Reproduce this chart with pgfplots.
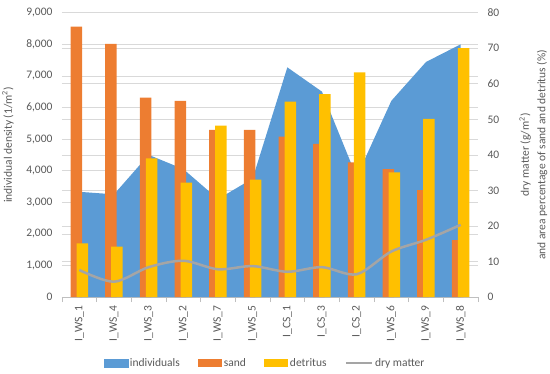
\documentclass[border=0pt]{standalone}
\usepackage{pgfplots}
\pgfplotsset{compat=1.18}
\usepackage{pgfplotstable}
\usepackage{fontspec}
\setmainfont{Carlito}
\definecolor{cInd}{HTML}{5B9BD5}
\definecolor{cSand}{HTML}{ED7D31}
\definecolor{cDet}{HTML}{FFC000}
\definecolor{cDry}{HTML}{A5A5A5}
\definecolor{cTxt}{HTML}{595959}
\definecolor{cGrid}{HTML}{D9D9D9}
\definecolor{cAx}{HTML}{BFBFBF}
\pgfplotstableread{
x ind sand det dry
0 3330 76.1 15.1 7.6
1 3250 71.2 14.2 4.3
2 4500 56.1 39.0 8.4
3 4050 55.2 32.2 10.2
4 3100 47.0 48.2 7.8
5 3750 47.0 33.0 8.7
6 7270 45.1 55.0 7.1
7 6500 43.1 57.1 8.4
8 3800 37.9 63.2 6.4
9 6210 36.0 35.1 12.8
10 7440 30.1 50.1 16.1
11 8000 16.0 70.0 20.3
}\data
\begin{document}
\begin{tikzpicture}
\path[use as bounding box] (-62pt,-76pt) rectangle (488pt,297pt);
\pgfplotsset{
  every axis/.append style={
    scale only axis, width=416pt, height=284.3pt,
    xmin=-0.5, xmax=11.5, ymin=0,
    font=\fontsize{11.5}{13.5}\selectfont,
    tick label style={text=cTxt, font=\fontsize{11.5}{13.5}\selectfont},
    label style={text=cTxt},
    /pgf/number format/assume math mode=true,
    major tick length=0pt,
  }
}
\begin{axis}[
  at={(0pt,0pt)}, anchor=south west,
  ymax=9000,
  ytick={0,1000,...,9000},
  /pgf/number format/1000 sep={,},
  extra y ticks={1125,2250,3375,4500,5625,6750,7875},
  extra y tick labels={},
  extra y tick style={grid=major},
  ymajorgrids, grid style={cGrid, line width=0.6pt},
  axis x line*=bottom, axis y line*=left,
  y axis line style={draw=none},
  x axis line style={cAx, line width=0.6pt, -},
  xtick={0,...,11},
  xticklabels={I\_WS\_1,I\_WS\_4,I\_WS\_3,I\_WS\_2,I\_WS\_7,I\_WS\_5,I\_CS\_1,I\_CS\_3,I\_CS\_2,I\_WS\_6,I\_WS\_9,I\_WS\_8},
  x tick label style={rotate=90, anchor=east, xshift=-5pt},
  y tick label style={xshift=-6pt},
  minor xtick={-0.5,0.5,...,11.5},
  minor tick length=5pt, xtick align=outside,
  minor tick style={cAx, line width=0.6pt},
  ylabel={individual density (1/m\textsuperscript{2})},
  ylabel style={at={(axis description cs:-0.13,0.535)}, anchor=center},
]
\addplot[fill=cInd, draw=none] table[x=x,y=ind] {\data} \closedcycle;
\end{axis}
\begin{axis}[
  at={(0pt,0pt)}, anchor=south west,
  ymax=80, ytick={0,10,...,80},
  axis y line*=right, axis x line=none,
  y axis line style={draw=none},
  y tick label style={xshift=6pt},
  ylabel={dry matter (g/m\textsuperscript{2})\\and area percentage of sand and detritus (\%)},
  ylabel style={align=center, at={(axis description cs:1.133,0.5)}, anchor=center, font=\fontsize{11.5}{16.5}\selectfont},
  legend columns=4,
  legend style={at={(0.488,-0.232)}, anchor=center, draw=none, fill=none,
    text=cTxt, font=\fontsize{11.5}{13.5}\selectfont,
    /tikz/every even column/.append style={column sep=16pt}},
]
\addlegendimage{legend image code/.code={\fill[cInd] (0pt,-4pt) rectangle (24pt,4pt);}}
\addlegendentry{individuals}
\addplot[ybar, bar width=11.5pt, bar shift=-3pt, fill=cSand, draw=none,
  legend image code/.code={\fill[cSand] (0pt,-4pt) rectangle (24pt,4pt);}]
  table[x=x,y=sand] {\data};
\addlegendentry{sand}
\addplot[ybar, bar width=11.5pt, bar shift=3pt, fill=cDet, draw=none,
  legend image code/.code={\fill[cDet] (0pt,-4pt) rectangle (24pt,4pt);}]
  table[x=x,y=det] {\data};
\addlegendentry{detritus}
\addplot[cDry, line width=2.5pt, smooth, mark=none,
  legend image code/.code={\draw[cDry, line width=2.5pt] (0pt,0pt) -- (26pt,0pt);}]
  table[x=x,y=dry] {\data};
\addlegendentry{dry matter}
\end{axis}
\end{tikzpicture}
\end{document}
